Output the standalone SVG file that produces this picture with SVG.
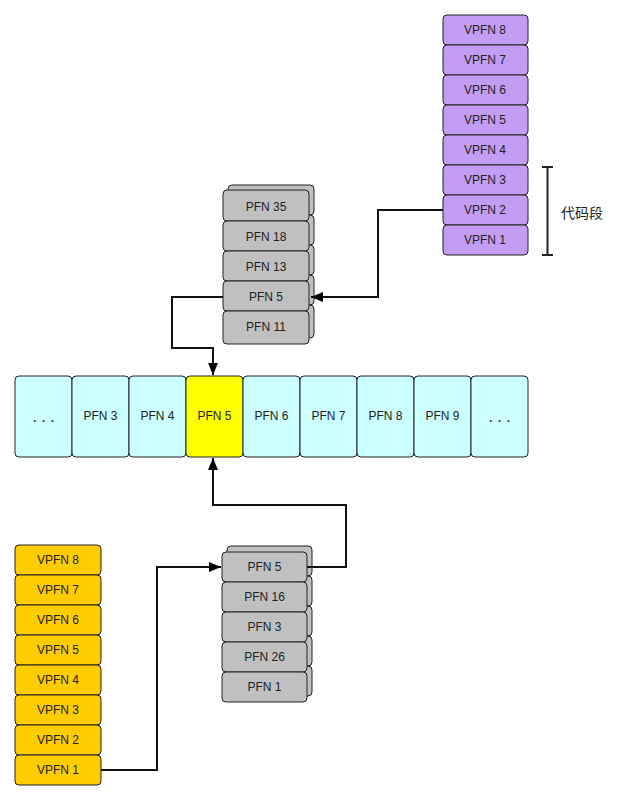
<svg xmlns="http://www.w3.org/2000/svg" width="633" height="800" viewBox="0 0 633 800">
<style>
text{font-family:"Liberation Sans",Arial,sans-serif;font-size:12px;fill:#222;text-anchor:middle;dominant-baseline:central}
.dots{font-size:16px}
.c{stroke:#222;stroke-width:1}
.pu{fill:#c39cf3}
.cy{fill:#ccffff}
.ye{fill:#ffff00}
.gr{fill:#c0c0c0}
.or{fill:#ffcc00}
.ln{fill:none;stroke:#111;stroke-width:2}
</style>
<defs>
<marker id="a" viewBox="0 0 12 10" refX="12" refY="5" markerWidth="12" markerHeight="10" markerUnits="userSpaceOnUse" orient="auto">
<path d="M0,0 L12,5 L0,10 z" fill="#000"/>
</marker>
</defs>
<rect width="633" height="800" fill="#fff"/>

<g id="purple">
<rect class="c pu" x="443" y="15" width="85" height="30" rx="4"/><text x="485" y="30">VPFN 8</text>
<rect class="c pu" x="443" y="45" width="85" height="30" rx="4"/><text x="485" y="60">VPFN 7</text>
<rect class="c pu" x="443" y="75" width="85" height="30" rx="4"/><text x="485" y="90">VPFN 6</text>
<rect class="c pu" x="443" y="105" width="85" height="30" rx="4"/><text x="485" y="120">VPFN 5</text>
<rect class="c pu" x="443" y="135" width="85" height="30" rx="4"/><text x="485" y="150">VPFN 4</text>
<rect class="c pu" x="443" y="165" width="85" height="30" rx="4"/><text x="485" y="180">VPFN 3</text>
<rect class="c pu" x="443" y="195" width="85" height="30" rx="4"/><text x="485" y="210">VPFN 2</text>
<rect class="c pu" x="443" y="225" width="85" height="30" rx="4"/><text x="485" y="240">VPFN 1</text>
</g>

<g id="bracket">
<path d="M542,167 H553 M547.5,167 V255 M542,255 H553" fill="none" stroke="#222" stroke-width="2"/>
<text x="582" y="212" style="font-family:'Noto Sans CJK SC','Liberation Sans',sans-serif;font-size:14px">代码段</text>
</g>

<g id="stack-upper">
<rect class="c gr" x="228" y="185" width="86" height="30" rx="4"/>
<rect class="c gr" x="228" y="215" width="86" height="30" rx="4"/>
<rect class="c gr" x="228" y="245" width="86" height="30" rx="4"/>
<rect class="c gr" x="228" y="275" width="86" height="30" rx="4"/>
<rect class="c gr" x="228" y="305" width="86" height="33" rx="4"/>
<rect class="c gr" x="223" y="190" width="86" height="31" rx="4"/><text x="266" y="207">PFN 35</text>
<rect class="c gr" x="223" y="221" width="86" height="30" rx="4"/><text x="266" y="237">PFN 18</text>
<rect class="c gr" x="223" y="251" width="86" height="30" rx="4"/><text x="266" y="267">PFN 13</text>
<rect class="c gr" x="223" y="281" width="86" height="30" rx="4"/><text x="266" y="297">PFN 5</text>
<rect class="c gr" x="223" y="311" width="86" height="33" rx="4"/><text x="266" y="327">PFN 11</text>
</g>

<g id="row">
<rect class="c cy" x="15" y="376" width="57" height="81" rx="4"/><text class="dots" x="43.5" y="416">. . .</text>
<rect class="c cy" x="72" y="376" width="57" height="81" rx="4"/><text x="100.5" y="416">PFN 3</text>
<rect class="c cy" x="129" y="376" width="57" height="81" rx="4"/><text x="157.5" y="416">PFN 4</text>
<rect class="c ye" x="186" y="376" width="57" height="81" rx="4"/><text x="214.5" y="416">PFN 5</text>
<rect class="c cy" x="243" y="376" width="57" height="81" rx="4"/><text x="271.5" y="416">PFN 6</text>
<rect class="c cy" x="300" y="376" width="57" height="81" rx="4"/><text x="328.5" y="416">PFN 7</text>
<rect class="c cy" x="357" y="376" width="57" height="81" rx="4"/><text x="385.5" y="416">PFN 8</text>
<rect class="c cy" x="414" y="376" width="57" height="81" rx="4"/><text x="442.5" y="416">PFN 9</text>
<rect class="c cy" x="471" y="376" width="57" height="81" rx="4"/><text class="dots" x="499.5" y="416">. . .</text>
</g>

<g id="stack-lower">
<rect class="c gr" x="227" y="546" width="85" height="30" rx="4"/>
<rect class="c gr" x="227" y="576" width="85" height="30" rx="4"/>
<rect class="c gr" x="227" y="606" width="85" height="30" rx="4"/>
<rect class="c gr" x="227" y="636" width="85" height="30" rx="4"/>
<rect class="c gr" x="227" y="666" width="85" height="30" rx="4"/>
<rect class="c gr" x="222" y="552" width="85" height="30" rx="4"/><text x="264.5" y="567">PFN 5</text>
<rect class="c gr" x="222" y="582" width="85" height="30" rx="4"/><text x="264.5" y="597">PFN 16</text>
<rect class="c gr" x="222" y="612" width="85" height="30" rx="4"/><text x="264.5" y="627">PFN 3</text>
<rect class="c gr" x="222" y="642" width="85" height="30" rx="4"/><text x="264.5" y="657">PFN 26</text>
<rect class="c gr" x="222" y="672" width="85" height="30" rx="4"/><text x="264.5" y="687">PFN 1</text>
</g>

<g id="orange">
<rect class="c or" x="15" y="545" width="86" height="30" rx="4"/><text x="58" y="560">VPFN 8</text>
<rect class="c or" x="15" y="575" width="86" height="30" rx="4"/><text x="58" y="590">VPFN 7</text>
<rect class="c or" x="15" y="605" width="86" height="30" rx="4"/><text x="58" y="620">VPFN 6</text>
<rect class="c or" x="15" y="635" width="86" height="30" rx="4"/><text x="58" y="650">VPFN 5</text>
<rect class="c or" x="15" y="665" width="86" height="30" rx="4"/><text x="58" y="680">VPFN 4</text>
<rect class="c or" x="15" y="695" width="86" height="30" rx="4"/><text x="58" y="710">VPFN 3</text>
<rect class="c or" x="15" y="725" width="86" height="30" rx="4"/><text x="58" y="740">VPFN 2</text>
<rect class="c or" x="15" y="755" width="86" height="30" rx="4"/><text x="58" y="770">VPFN 1</text>
</g>

<g id="connectors">
<path class="ln" d="M443,210 H378 V297 H311" marker-end="url(#a)"/>
<path class="ln" d="M223,297 H172 V348 H213 V375" marker-end="url(#a)"/>
<path class="ln" d="M307,567 H346 V505 H213 V458" marker-end="url(#a)"/>
<path class="ln" d="M101,770 H157 V567 H221" marker-end="url(#a)"/>
</g>
</svg>
